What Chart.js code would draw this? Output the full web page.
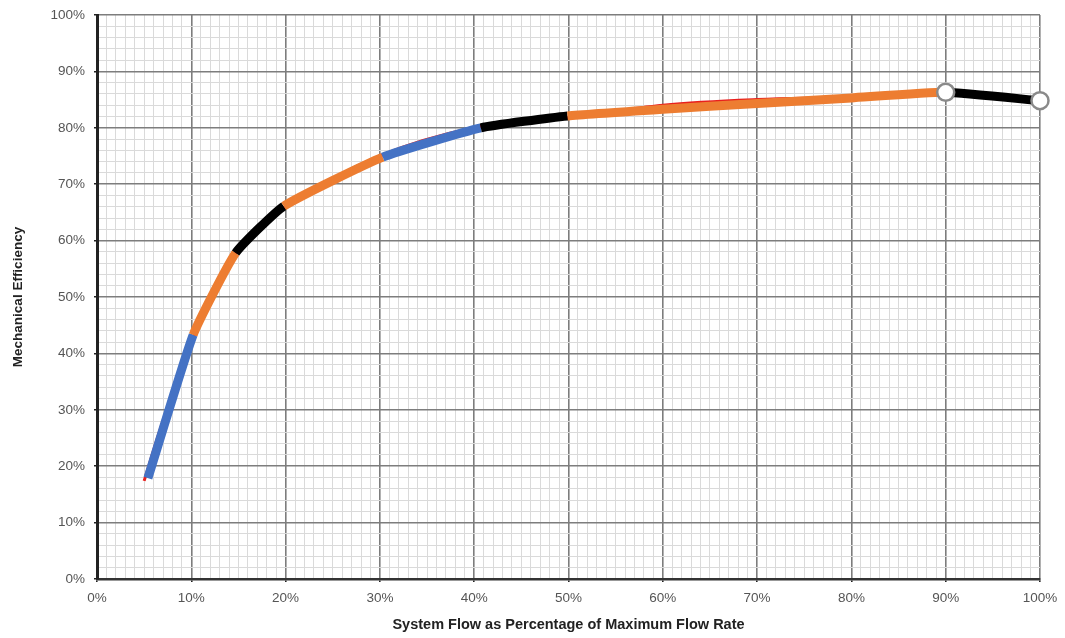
<!DOCTYPE html>
<html><head><meta charset="utf-8">
<script src="https://cdn.jsdelivr.net/npm/chart.js@4"></script>
<style>html,body{margin:0;padding:0;background:#fff}#wrap{width:1065px;height:638px}</style>
</head><body><div id="wrap"><canvas id="c" width="1065" height="638"></canvas></div>
<script>
const curveX = [5, 7, 10, 15, 20, 30, 40, 50, 60, 70, 80, 90, 100];
const curveY = [17.4, 28, 42, 58.5, 66, 75, 80, 81.8, 84, 85, 85.4, 86.2, 84.7];
const pumpX = [5.4, 10.2, 14.7, 19.8, 30.3, 40.7, 49.9, 60, 70, 80, 90, 100];
const pumpY = [17.9, 43.3, 57.8, 66.1, 74.8, 80.0, 82.1, 83.3, 84.3, 85.3, 86.3, 84.8];
const segColors = ['#4472c4','#ed7d31','#000000','#ed7d31','#4472c4','#000000','#ed7d31','#ed7d31','#ed7d31','#ed7d31','#000000'];
const markerFlags = [0,0,0,0,0,0,0,0,0,0,1,1];
const xTitle = 'System Flow as Percentage of Maximum Flow Rate';
const yTitle = 'Mechanical Efficiency';

const tickFont = {family:'"Liberation Sans", Arial, sans-serif', size:13.5};
const xTitleFont = {family:'"Liberation Sans", Arial, sans-serif', size:14.5, weight:'bold'};
const yTitleFont = {family:'"Liberation Sans", Arial, sans-serif', size:13.5, weight:'bold'};
const isMajor = ctx => ctx.tick && Math.round(ctx.tick.value) % 10 === 0;
function gridColor(ctx){ return isMajor(ctx) ? '#7d7d7d' : '#dadada'; }
function gridWidth(ctx){ return isMajor(ctx) ? 1.6 : 1; }
function tickColor(ctx){ return isMajor(ctx) ? '#222' : 'rgba(0,0,0,0)'; }
const lbl = v => (Math.round(v) % 10 === 0) ? v + '%' : '';

new Chart(document.getElementById('c'), {
  type: 'line',
  data: {
    datasets: [
      {
        data: curveX.map((x,i)=>({x, y:curveY[i]})),
        borderColor: '#e8201e', borderWidth: 3, pointRadius: 0, tension: 0.35, order: 2
      },
      {
        data: pumpX.map((x,i)=>({x, y:pumpY[i]})),
        borderWidth: 9, tension: 0.15, order: 1, clip: false,
        borderCapStyle: 'butt',
        segment: { borderColor: ctx => segColors[ctx.p0DataIndex] },
        pointRadius: markerFlags.map(f => f ? 8.5 : 0),
        pointBackgroundColor: '#ffffff',
        pointBorderColor: '#8a8a8a',
        pointBorderWidth: 2.5
      }
    ]
  },
  options: {
    responsive: false, animation: false,
    layout: {padding: {left: 4, right: 25, top: 15, bottom: 4}},
    plugins: {legend: {display: false}, tooltip: {enabled: false}},
    scales: {
      x: {
        type: 'linear', min: 0, max: 100,
        ticks: {stepSize: 1, autoSkip: false, maxRotation: 0, callback: lbl, color: '#555', font: tickFont, padding: 8},
        grid: {color: gridColor, lineWidth: gridWidth, tickColor: tickColor, tickLength: 3, drawTicks: true},
        border: {color: '#333', width: 2.5},
        title: {display: true, text: xTitle, color: '#222', font: xTitleFont, padding: {top: 4, bottom: 0}},
        afterFit: s => { s.height = 55; s.paddingLeft = 0; s.paddingRight = 0; }
      },
      y: {
        min: 0, max: 100,
        ticks: {stepSize: 2, autoSkip: false, callback: lbl, color: '#555', font: tickFont, padding: 9},
        grid: {color: gridColor, lineWidth: gridWidth, tickColor: tickColor, tickLength: 3},
        border: {color: '#222', width: 3},
        title: {display: true, text: yTitle, color: '#222', font: yTitleFont, padding: {top: 6, bottom: 0}},
        afterFit: s => { s.width = 93; s.paddingTop = 0; s.paddingBottom = 0; }
      }
    }
  }
});
</script></body></html>
